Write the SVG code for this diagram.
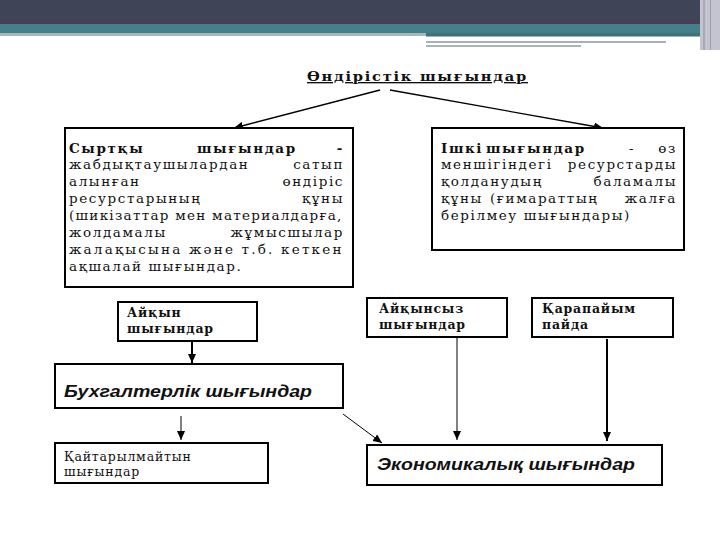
<svg xmlns="http://www.w3.org/2000/svg" width="720" height="540" viewBox="0 0 720 540">
<style>
.box{fill:#fff;stroke:#000;stroke-width:2}
.sr{font-family:"DejaVu Serif","Liberation Serif",serif;font-size:13.5px;letter-spacing:1.6px;fill:#111}
.b{font-weight:bold}
.e{text-anchor:end}
.sm{font-family:"DejaVu Serif","Liberation Serif",serif;font-size:12.5px;letter-spacing:0.8px;fill:#111}
.sa{font-family:"Liberation Sans",Arial,sans-serif;font-size:16px;font-weight:bold;font-style:italic;fill:#111}
.ln{stroke:#000;fill:none}
</style>
<defs>
<marker id="ah" markerUnits="userSpaceOnUse" markerWidth="10" markerHeight="8" refX="9" refY="4" orient="auto">
<path d="M0,0 L9,4 L0,8 Z" fill="#000"/>
</marker>
</defs>
<rect width="720" height="540" fill="#fff"/>
<g id="header">
<rect x="0" y="0" width="720" height="24" fill="#3f4456"/>
<rect x="0" y="20" width="700" height="4" fill="#463f55"/>
<rect x="0" y="24" width="700" height="9" fill="#43808a"/>
<rect x="0" y="33" width="426" height="3" fill="#a9b7ba"/>
<rect x="426" y="33" width="274" height="3" fill="#3f7179"/>
<rect x="426" y="36" width="274" height="1" fill="#9fb4b6"/>
<rect x="426" y="41" width="240" height="2" fill="#a3b2b2"/>
<rect x="426" y="45" width="155" height="2" fill="#a7b5b5"/>
<rect x="700" y="0" width="20" height="50" fill="#c4c4d0"/>
<rect x="703" y="0" width="2" height="50" fill="#a8a8b8"/>
<rect x="710" y="0" width="1" height="50" fill="#9c9cac"/>
</g>
<g id="title">
<text x="307" y="81" class="sr b" font-size="16" textLength="221" lengthAdjust="spacingAndGlyphs" text-decoration="underline">Өндірістік шығындар</text>
</g>
<g id="connectors">
<line class="ln" x1="380" y1="90" x2="234" y2="128" stroke-width="1.3" marker-end="url(#ah)"/>
<line class="ln" x1="390" y1="90" x2="603" y2="128" stroke-width="1.3" marker-end="url(#ah)"/>
<line class="ln" x1="192" y1="341" x2="192" y2="363" stroke-width="2" marker-end="url(#ah)"/>
<line class="ln" x1="181" y1="416" x2="181" y2="440" stroke-width="1" marker-end="url(#ah)"/>
<line class="ln" x1="343" y1="414" x2="382" y2="443" stroke-width="1" stroke="#333" marker-end="url(#ah)"/>
<line class="ln" x1="457" y1="337" x2="457" y2="440" stroke-width="1" marker-end="url(#ah)"/>
<line class="ln" x1="607" y1="339" x2="607" y2="441" stroke-width="2" marker-end="url(#ah)"/>
</g>
<g id="external">
<rect class="box" x="65" y="128" width="288" height="159"/>
<text class="sr b" x="69" y="153">Сыртқы</text>
<text class="sr b" x="197" y="153">шығындар</text>
<text class="sr b e" x="344" y="153">-</text>
<text class="sr" x="69" y="169">жабдықтаушылардан</text>
<text class="sr e" x="344" y="169">сатып</text>
<text class="sr" x="69" y="186">алынған</text>
<text class="sr e" x="344" y="186">өндіріс</text>
<text class="sr" x="69" y="203">ресурстарының</text>
<text class="sr e" x="344" y="203">құны</text>
<text class="sr" x="69" y="220" textLength="274" lengthAdjust="spacing">(шикізаттар мен материалдарға,</text>
<text class="sr" x="69" y="237">жолдамалы</text>
<text class="sr e" x="344" y="237">жұмысшылар</text>
<text class="sr" x="69" y="254" textLength="274" lengthAdjust="spacing">жалақысына және т.б. кеткен</text>
<text class="sr" x="69" y="271">ақшалай шығындар.</text>
</g>
<g id="internal">
<rect class="box" x="432" y="128" width="252" height="122"/>
<text class="sr b" x="441" y="153">Ішкі</text>
<text class="sr b" x="486" y="153">шығындар</text>
<text class="sr" x="629" y="153">-</text>
<text class="sr e" x="677" y="153">өз</text>
<text class="sr" x="441" y="169">меншігіндегі</text>
<text class="sr e" x="677" y="169">ресурстарды</text>
<text class="sr" x="441" y="186">қолданудың</text>
<text class="sr e" x="677" y="186">баламалы</text>
<text class="sr" x="441" y="203">құны</text>
<text class="sr" x="490" y="203">(ғимараттың</text>
<text class="sr e" x="677" y="203">жалға</text>
<text class="sr" x="441" y="220">берілмеу шығындары)</text>
</g>
<g id="explicit">
<rect class="box" x="118" y="302" width="139" height="39"/>
<text class="sm b" x="127" y="317">Айқын</text>
<text class="sm b" x="127" y="333">шығындар</text>
</g>
<g id="implicit">
<rect class="box" x="367" y="298" width="140" height="39"/>
<text class="sm b" x="379" y="313">Айқынсыз</text>
<text class="sm b" x="379" y="329">шығындар</text>
</g>
<g id="normal-profit">
<rect class="box" x="532" y="298" width="141" height="39"/>
<text class="sm b" x="542" y="313">Қарапайым</text>
<text class="sm b" x="542" y="329">пайда</text>
</g>
<g id="accounting">
<rect class="box" x="55" y="364" width="288" height="44"/>
<text class="sa" x="64" y="397" textLength="248" lengthAdjust="spacingAndGlyphs">Бухгалтерлік шығындар</text>
</g>
<g id="sunk">
<rect class="box" x="55" y="443" width="213" height="40"/>
<text class="sm" x="64" y="461">Қайтарылмайтын</text>
<text class="sm" x="64" y="476">шығындар</text>
</g>
<g id="economic">
<rect class="box" x="367" y="445" width="295" height="40"/>
<text class="sa" x="377" y="470" textLength="258" lengthAdjust="spacingAndGlyphs">Экономикалық шығындар</text>
</g>
</svg>
